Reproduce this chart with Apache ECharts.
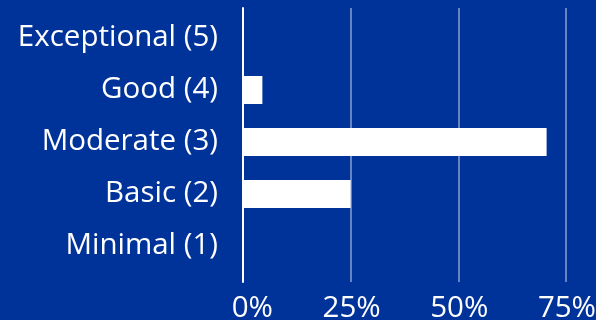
<!DOCTYPE html>
<html>
<head>
<meta charset="utf-8">
<script src="https://cdn.jsdelivr.net/npm/echarts@6/dist/echarts.min.js"></script>
<style>
html,body{margin:0;padding:0;background:#003399;}
#chart{width:596px;height:320px;}
</style>
</head>
<body>
<div id="chart"></div>
<script>
const categories = ["Minimal (1)", "Basic (2)", "Moderate (3)", "Good (4)", "Exceptional (5)"];
const values = [0, 25.0, 70.5, 4.5, 0];
const xTicks = [0, 25, 50, 75];

const FONT = 'Open Sans';
const chart = echarts.init(document.getElementById('chart'), null, {renderer: 'canvas'});
chart.setOption({
  backgroundColor: '#003399',
  animation: false,
  grid: [
    {left: 243, right: 30, top: 8, bottom: 38, containLabel: false, outerBoundsMode: 'none'},
    {left: 243, right: 30, top: 12, bottom: 48, containLabel: false, outerBoundsMode: 'none'}
  ],
  xAxis: [{
    gridIndex: 0, type: 'value', min: xTicks[0], max: xTicks[xTicks.length - 1], interval: 25,
    axisLine: {show: false}, axisTick: {show: false},
    splitLine: {show: true, lineStyle: {color: 'rgba(255,255,255,0.4)', width: 2}},
    axisLabel: {color: '#ffffff', fontFamily: FONT, fontSize: 29.5, margin: 12,
      formatter: v => '{a|' + v + '%}',
      rich: {a: {width: 60, align: 'right', color: '#ffffff', fontFamily: FONT, fontSize: 29.5}}}
  }, {
    gridIndex: 1, type: 'value', min: xTicks[0], max: xTicks[xTicks.length - 1], show: false
  }],
  yAxis: [{
    gridIndex: 0, type: 'value', min: 0, max: 1,
    axisLine: {show: true, lineStyle: {color: '#ffffff', width: 2}},
    axisTick: {show: false}, axisLabel: {show: false}, splitLine: {show: false}
  }, {
    gridIndex: 1, type: 'category', data: categories,
    axisLine: {show: false},
    axisTick: {show: false},
    axisLabel: {color: '#ffffff', fontFamily: FONT, fontSize: 29.5, margin: 25}
  }],
  series: [{
    type: 'bar', xAxisIndex: 1, yAxisIndex: 1, data: values, barWidth: 28,
    itemStyle: {color: '#ffffff'}
  }]
});
</script>
</body>
</html>
